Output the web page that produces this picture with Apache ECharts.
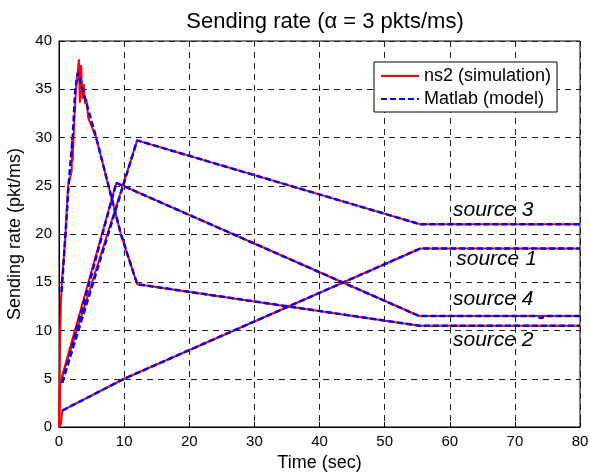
<!DOCTYPE html>
<html>
<head>
<meta charset="utf-8">
<script src="https://cdn.jsdelivr.net/npm/echarts@6/dist/echarts.min.js"></script>
<style>html,body{margin:0;padding:0;background:#fff}#c{width:590px;height:475px}</style>
</head>
<body>
<div id="c"></div>
<script>
var xTicks = [0, 10, 20, 30, 40, 50, 60, 70, 80];
var yTicks = [0, 5, 10, 15, 20, 25, 30, 35, 40];

// ns2 (simulation) traces
var sim1 = [[0,0],[0.3,0.3],[0.5,1.7],[10,5],[55.5,18.5],[80,18.5]];
var sim2 = [[0,0],[0.1,5],[0.2,10],[0.3,13],[0.45,15],[1.0,20],[1.4,25],[1.95,26.5],[2.0,30],[2.1,27.5],[2.3,31],[2.6,35],[2.9,37],[3.05,38.1],[3.2,33.6],[3.4,37.5],[3.6,34],[3.8,35.5],[4.0,33.5],[4.2,34],[4.5,32],[5.7,30],[9.5,20],[12,14.8],[55.3,10.5],[80,10.5]];
var sim3 = [[0,0],[0.2,4.6],[0.5,4.6],[12,29.7],[55.5,21],[80,21]];
var sim4 = [[0,0],[0.2,4.6],[0.5,4.6],[8.8,25.3],[55.3,11.5],[80,11.5]];

// Matlab (model) traces
var mod1 = [[0.5,1.7],[10,5],[55.5,18.5],[80,18.5]];
var mod2 = [[0.4,14],[1.0,20],[1.46,25],[2.1,30],[2.5,35],[2.9,36.7],[5.7,30],[9.5,20],[12,14.8],[55.3,10.5],[80,10.5]];
var mod3 = [[0.5,4.6],[12,29.7],[55.5,21],[80,21]];
var mod4 = [[0.5,4.6],[8.8,25.3],[55.3,11.5],[73,11.5],[74,11.3],[75,11.5],[80,11.5]];

// source annotations [x, y, text]
var notes = [[60.5,22.5,'source 3'],[61,17.4,'source 1'],[60.5,13.2,'source 4'],[60.5,9.0,'source 2']];

var simName = 'ns2 (simulation)';
var modName = 'Matlab (model)';
var FONT = 'Liberation Sans, Arial, sans-serif';

function simSeries(d){return {type:'line',name:simName,data:d,showSymbol:false,symbol:'none',animation:false,
  lineStyle:{color:'#ff0000',width:2,type:'solid'},itemStyle:{color:'#ff0000'},z:2};}
function modSeries(d){return {type:'line',name:modName,data:d,showSymbol:false,symbol:'none',animation:false,
  lineStyle:{color:'#0000ff',width:2.5,type:[6,3]},itemStyle:{color:'#0000ff'},z:3};}

var series = [simSeries(sim1),simSeries(sim2),simSeries(sim3),simSeries(sim4),
  modSeries(mod1),modSeries(mod2),modSeries(mod3),modSeries(mod4),
  {type:'scatter',name:'notes',data:notes.map(function(n){return {value:[n[0],n[1]],name:n[2]};}),
   symbolSize:0,silent:true,animation:false,z:5,itemStyle:{opacity:1,color:'#000'},
   label:{show:true,position:'right',distance:0,formatter:function(p){return p.name;},
     fontStyle:'italic',fontSize:21,color:'#000',fontFamily:FONT,textBorderWidth:0,opacity:1}}];

var chart = echarts.init(document.getElementById('c'),null,{renderer:'canvas'});
chart.setOption({
  backgroundColor:'#fff',
  animation:false,
  title:{text:'Sending rate (\u03b1 = 3 pkts/ms)',left:320,top:6,textAlign:'center',
    textStyle:{fontFamily:FONT,fontSize:22,fontWeight:'normal',color:'#000'}},
  legend:{data:[simName,modName],orient:'vertical',left:374,top:62,
    backgroundColor:'#fff',borderColor:'#000',borderWidth:1,padding:[5,6,4,6],itemGap:5,
    itemWidth:38,itemHeight:16,
    itemStyle:{opacity:0,borderWidth:0},
    textStyle:{fontFamily:FONT,fontSize:18,color:'#000'}},
  grid:{left:59,right:10,top:41,bottom:48,show:true,borderColor:'#000',borderWidth:1,backgroundColor:'#fff',
    outerBoundsMode:'none',containLabel:false},
  xAxis:{type:'value',min:xTicks[0],max:xTicks[xTicks.length-1],interval:10,
    name:'Time (sec)',nameLocation:'middle',nameGap:27,
    nameTextStyle:{fontFamily:FONT,fontSize:18,color:'#000'},
    axisLine:{lineStyle:{color:'#000'}},axisTick:{inside:true,length:5,lineStyle:{color:'#000'}},
    axisLabel:{fontFamily:FONT,fontSize:15,color:'#000',margin:7},
    splitLine:{show:true,lineStyle:{color:'#222',type:[6,5],width:1}}},
  yAxis:{type:'value',min:yTicks[0],max:yTicks[yTicks.length-1],interval:5,
    name:'Sending rate (pkt/ms)',nameLocation:'middle',nameGap:26,
    nameTextStyle:{fontFamily:FONT,fontSize:18,color:'#000'},
    axisLine:{show:true,lineStyle:{color:'#000'}},axisTick:{show:true,inside:true,length:5,lineStyle:{color:'#000'}},
    axisLabel:{fontFamily:FONT,fontSize:15,color:'#000',margin:7},
    splitLine:{show:true,lineStyle:{color:'#222',type:[6,5],width:1}}},
  series:series
});
</script>
</body>
</html>
